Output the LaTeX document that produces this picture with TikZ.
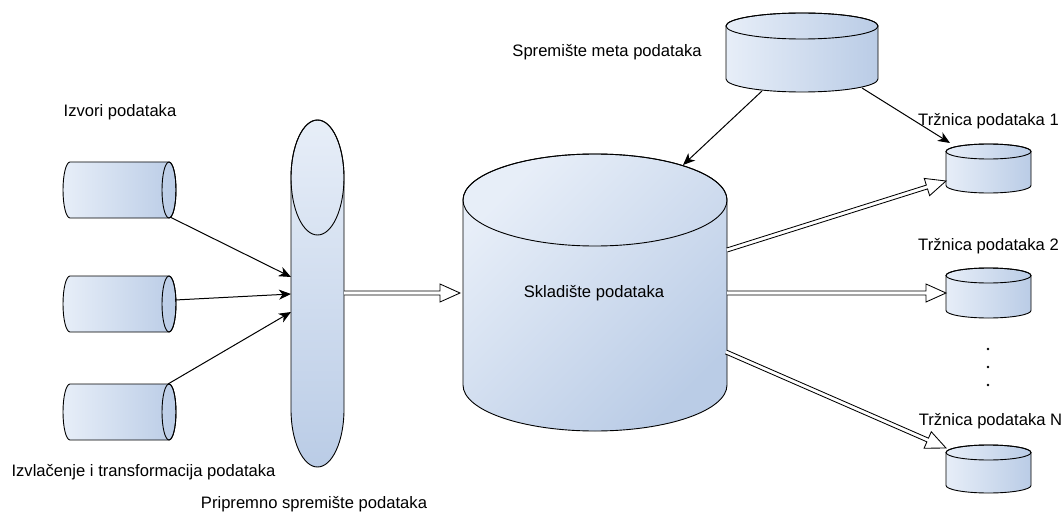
\documentclass[tikz,border=0pt]{standalone}
\usepackage{fontspec}
\setmainfont{Liberation Sans}
\usetikzlibrary{arrows.meta,calc}
\definecolor{cl}{RGB}{231,238,248}
\definecolor{cd}{RGB}{186,204,230}
\tikzset{
  lbl/.style={font=\fontsize{16.6}{20}\selectfont, inner sep=0pt, text=black},
  outl/.style={draw=black, line width=0.9pt},
  arr/.style={draw=black, line width=1pt, -{Stealth[length=12pt,width=10pt,inset=3.5pt]}},
  flex/.style={draw=black, fill=white, line width=0.85pt, line join=miter},
  hshade/.style={left color=cl, right color=cd},
  vshade/.style={top color=cl, bottom color=cd},
  dshade/.style={top color=cl, bottom color=cd, shading angle=45},
}
% vertical cylinder: cx, top, bottom, rx, ry, shading
\newcommand\dbcyl[6]{%
  \path[outl,#6] ({#1-#4},{#2+#5}) arc[start angle=180,end angle=0,x radius=#4pt,y radius=#5pt]
    -- ({#1+#4},{#3-#5}) arc[start angle=0,end angle=-180,x radius=#4pt,y radius=#5pt] -- cycle;
  \draw[outl] (#1,{#2+#5}) ellipse[x radius=#4pt,y radius=#5pt];
}
% horizontal cylinder: left x, right ellipse centre x, cy, rx, ry
\newcommand\hdbcyl[5]{%
  \path[outl,hshade] ({#1+#4},{#3-#5}) -- (#2,{#3-#5}) arc[start angle=90,end angle=-90,x radius=#4pt,y radius=#5pt]
    -- ({#1+#4},{#3+#5}) arc[start angle=270,end angle=90,x radius=#4pt,y radius=#5pt] -- cycle;
  \draw[outl] (#2,#3) ellipse[x radius=#4pt,y radius=#5pt];
}
% flex (hollow) arrow: from, to, prefix
\newcommand\flexarr[3]{%
  \coordinate (#3h) at ($(#2)!20pt!(#1)$);
  \filldraw[flex] ($(#1)!2pt!90:(#2)$) -- ($(#3h)!2pt!90:(#2)$) -- ($(#3h)!9pt!90:(#2)$) -- (#2)
    -- ($(#3h)!9pt!-90:(#2)$) -- ($(#3h)!2pt!-90:(#2)$) -- ($(#1)!2pt!-90:(#2)$);
}
\begin{document}
\begin{tikzpicture}[x=1pt,y=-1pt]
\useasboundingbox (0,0) rectangle (1064,513);
\fill[white] (0,0) rectangle (1064,513);

% source cylinders
\hdbcyl{63}{169}{190}{7}{28}
\hdbcyl{63}{169}{304}{7}{28}
\hdbcyl{63}{169}{412}{7}{28}
% staging (tall)
\dbcyl{317.5}{120}{467}{26.5}{57.5}{vshade}
% warehouse
\dbcyl{595}{154}{431}{132}{46}{dshade}
% metadata
\dbcyl{802}{13}{92}{76}{13}{hshade}
% data marts
\dbcyl{988.5}{144}{193}{42.5}{7.5}{hshade}
\dbcyl{988.5}{268}{318}{42.5}{7.5}{hshade}
\dbcyl{988.5}{445}{493}{42.5}{7.5}{hshade}

% connector end points
\coordinate (s1) at (170,217);
\coordinate (s2) at (175,300);
\coordinate (s3) at (168,384);
\coordinate (st1) at (291,277);
\coordinate (st2) at (291,294);
\coordinate (st3) at (291,312);
\coordinate (sto) at (344,293);
\coordinate (dwi) at (460,293);
\coordinate (mo1) at (762,91);
\coordinate (dwt) at (683,165);
\coordinate (mo2) at (862,88);
\coordinate (m1t) at (950,143);
\coordinate (dwo1) at (727,250);
\coordinate (m1i) at (946,181);
\coordinate (dwo2) at (727,293);
\coordinate (m2i) at (946,293);
\coordinate (dwo3) at (726,352);
\coordinate (mNi) at (946,448);

\draw[arr] (s1) -- (st1);
\draw[arr] (s2) -- (st2);
\draw[arr] (s3) -- (st3);
\draw[arr] (mo1) -- (dwt);
\draw[arr] (mo2) -- (m1t);

\flexarr{sto}{dwi}{fa}
\flexarr{dwo1}{m1i}{fb}
\flexarr{dwo2}{m2i}{fc}
\flexarr{dwo3}{mNi}{fd}

% dots
\fill (988,349) circle[radius=1.3pt];
\fill (988,367) circle[radius=1.3pt];
\fill (988,385) circle[radius=1.3pt];

% labels
\node[lbl] (lizv) at (120,112) {Izvori podataka};
\node[lbl] (letl) at (143.5,472) {Izvlačenje i transformacija podataka};
\node[lbl] (lpri) at (314,504) {Pripremno spremište podataka};
\node[lbl] (lskl) at (594,293) {Skladište podataka};
\node[lbl] (lmet) at (607,52) {Spremište meta podataka};
\node[lbl] (lm1) at (988.5,121) {Tržnica podataka 1};
\node[lbl] (lm2) at (988.5,246) {Tržnica podataka 2};
\node[lbl] (lmN) at (990.5,421) {Tržnica podataka N};
\end{tikzpicture}
\end{document}
